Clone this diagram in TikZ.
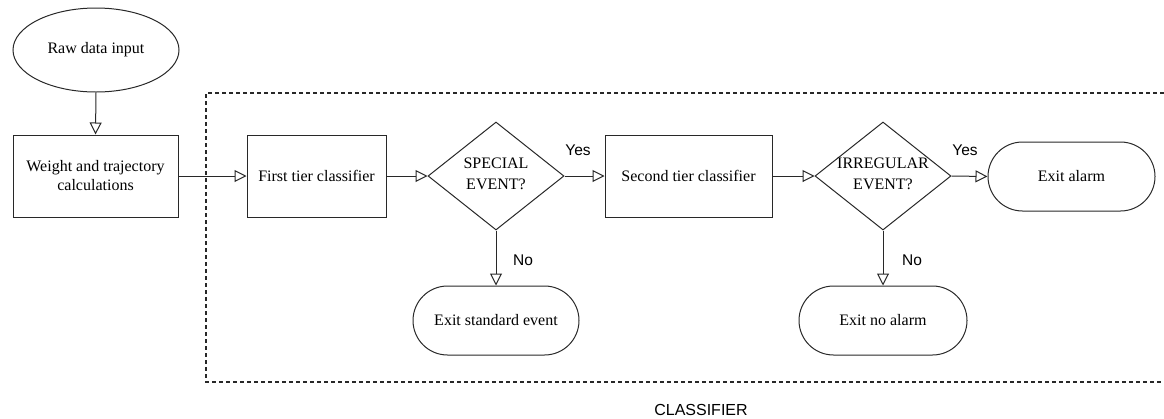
\documentclass[tikz,border=0pt]{standalone}
\usepackage{fontspec}
\setmainfont{Liberation Serif}
\setsansfont{Liberation Sans}
\usetikzlibrary{shapes.geometric,shapes.misc,arrows.meta}
\definecolor{linec}{RGB}{40,40,40}
\tikzset{
  base/.style={draw=linec, line width=1pt, font=\fontsize{16}{19}\selectfont, align=center, inner sep=0pt},
  box/.style={base, rectangle},
  oval/.style={base, ellipse},
  term/.style={base, rounded rectangle, minimum width=167pt, minimum height=69pt},
  dec/.style={base, diamond, minimum width=136pt, minimum height=108pt},
  dtext/.style={font=\fontsize{16}{21}\selectfont, align=center, inner sep=0pt},
  lbl/.style={font=\sffamily\fontsize{15.5}{18}\selectfont, inner sep=0pt},
  arr/.style={draw=linec, line width=1pt, -{Triangle[open, length=12pt, width=12pt, fill=white]}},
  frame/.style={draw=linec, line width=1.1pt, dash pattern=on 4pt off 3pt}
}
\begin{document}
\begin{tikzpicture}[x=1pt,y=-1pt]
\useasboundingbox (0,0) rectangle (1164,418);
% classifier frame
\coordinate (f1) at (1164,93);
\coordinate (f2) at (206,93);
\coordinate (f3) at (206,382);
\coordinate (f4) at (1164,382);
\draw[frame] (f1) -- (f2) -- (f3) -- (f4);
\node[lbl, font=\sffamily\fontsize{16}{18}\selectfont] (cls) at (701,410) {CLASSIFIER};

\node[oval, minimum width=166pt, minimum height=84pt] (raw) at (96,50) {Raw data input};
\node[box, minimum width=165pt, minimum height=82pt] (wt) at (95.5,176) {Weight and trajectory\\calculations};
\node[box, minimum width=139pt, minimum height=82pt] (ft) at (316.5,176) {First tier classifier};
\node[dec] (d1) at (496,176) {};
\node[dtext] (d1t) at (496,174) {SPECIAL\\EVENT?};
\node[box, minimum width=167pt, minimum height=82pt] (st) at (688.5,176) {Second tier classifier};
\node[dec] (d2) at (883,176) {};
\node[dtext] (d2t) at (883,174) {IRREGULAR\\EVENT?};
\node[term] (ea) at (1071.5,176.5) {Exit alarm};
\node[term, minimum width=166pt] (es) at (496,320.5) {Exit standard event};
\node[term, minimum width=168pt] (en) at (883,320.5) {Exit no alarm};

\draw[arr] (raw.south) -- (wt.north);
\draw[arr] (wt.east) -- (ft.west);
\draw[arr] (ft.east) -- (d1.west);
\draw[arr] (d1.east) -- (st.west);
\draw[arr] (st.east) -- (d2.west);
\draw[arr] (d2.east) -- (ea.west);
\draw[arr] (d1.south) -- (es.north);
\draw[arr] (d2.south) -- (en.north);

\node[lbl] (y1) at (578,150) {Yes};
\node[lbl] (y2) at (965,150) {Yes};
\node[lbl] (n1) at (523,260) {No};
\node[lbl] (n2) at (912,260) {No};
\end{tikzpicture}
\end{document}
